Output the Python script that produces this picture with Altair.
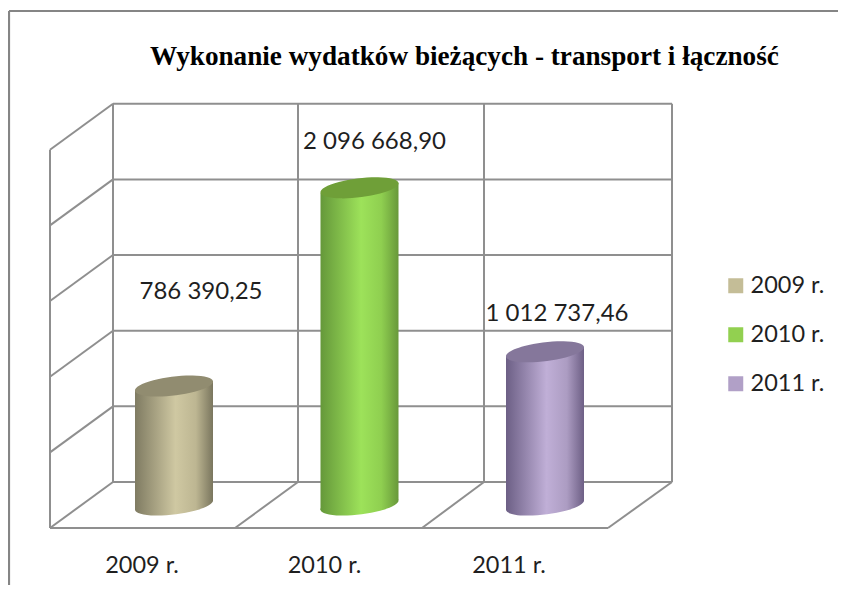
import altair as alt
import pandas as pd

# ---- chart values -------------------------------------------------------
categories = ["2009 r.", "2010 r.", "2011 r."]
values = [786390.25, 2096668.90, 1012737.46]
value_labels = ["786 390,25", "2 096 668,90", "1 012 737,46"]
grid_values = [0, 500000, 1000000, 1500000, 2000000, 2500000]
title_text = "Wykonanie wydatków bieżących - transport i łączność"

# ---- colours ------------------------------------------------------------
legend_colors = ["#C4BD97", "#92D050", "#B1A0C7"]
top_colors = ["#918C70", "#6F9F38", "#85779B"]
side_stops = [
    ("#7F7B62", "#CFC8A2", "#BDB692", "#7A765E"),
    ("#65983A", "#9DE25A", "#8FCF50", "#68983A"),
    ("#6C5F85", "#C0AFD7", "#AC9CC2", "#6D5F85"),
]
line_color = "#8F8F8F"
text_color = "#1F1F1F"

# ---- page geometry → data coordinates (category index / value) ----------
W, H = 830, 577
PX_PER_CAT = 185.5
PX_PER_VAL = 151.3e-6
X0_PAGE, Y0_PAGE = 174.0, 505.0


def xd(px):
    return (px - X0_PAGE) / PX_PER_CAT


def yd(py):
    return (Y0_PAGE - py) / PX_PER_VAL


x_scale = alt.Scale(domain=[xd(8), xd(8 + W)], range=[0, W], nice=False, zero=False)
y_scale = alt.Scale(domain=[yd(8 + H), yd(8)], range=[H, 0], nice=False, zero=False)
X = alt.X("x:Q", scale=x_scale, axis=None)
Y = alt.Y("y:Q", scale=y_scale, axis=None, stack=None)

DEPTH = 23 / PX_PER_VAL  # wall depth in value units
TILT = 5 / PX_PER_VAL    # cylinder tilt in value units
HALF = 39 / PX_PER_CAT   # cylinder half-width in category units

# ---- walls and frame ----------------------------------------------------
segments = []


def seg(x1, y1, x2, y2):
    i = len(segments) // 2
    segments.append({"id": i, "x": xd(x1), "y": y1})
    segments.append({"id": i, "x": xd(x2), "y": y2})


for v in grid_values:
    seg(113, v + DEPTH, 672, v + DEPTH)
    seg(50, v - DEPTH, 113, v + DEPTH)
top_v = grid_values[-1]
seg(50, -DEPTH, 50, top_v - DEPTH)
for px in [113, 298, 484, 672]:
    seg(px, DEPTH, px, top_v + DEPTH)
seg(50, -DEPTH, 608, -DEPTH)
for a, b in [(235, 298), (422, 484), (608, 672)]:
    seg(a, -DEPTH, b, DEPTH)
walls = alt.Chart(pd.DataFrame(segments)).mark_line(
    color=line_color, strokeWidth=2
).encode(x=X, y=Y, detail="id:N")

frame_rows = []
for i, (x1, y1, x2, y2) in enumerate([(9, 593, 9, 11), (9, 11, 846, 11)]):
    frame_rows.append({"id": i, "x": xd(x1), "y": yd(y1)})
    frame_rows.append({"id": i, "x": xd(x2), "y": yd(y2)})
frame = alt.Chart(pd.DataFrame(frame_rows)).mark_line(
    color="#858585", strokeWidth=2.2
).encode(x=X, y=Y, detail="id:N")

# ---- cylinders ----------------------------------------------------------
ELLIPSE = "M -0.9925 0.1219 A 1 0.24 -7 1 1 0.9925 -0.1219 A 1 0.24 -7 1 1 -0.9925 0.1219 Z"
ELLIPSE_SIZE = (2 * 39.3) ** 2


def gradient(stops):
    return alt.Gradient(
        gradient="linear", x1=0, y1=0, x2=1, y2=0,
        stops=[
            alt.GradientStop(color=stops[0], offset=0),
            alt.GradientStop(color=stops[1], offset=0.52),
            alt.GradientStop(color=stops[2], offset=0.78),
            alt.GradientStop(color=stops[3], offset=1),
        ],
    )


bars = []
for i, v in enumerate(values):
    g = gradient(side_stops[i])
    bottom = pd.DataFrame([{"x": i, "y": 0}])
    top = pd.DataFrame([{"x": i, "y": v}])
    side = pd.DataFrame([
        {"x": i - HALF, "y": v - TILT, "y2": -TILT},
        {"x": i + HALF, "y": v + TILT, "y2": TILT},
    ])
    bars.append(alt.Chart(bottom).mark_point(
        shape=ELLIPSE, size=ELLIPSE_SIZE, filled=True, fill=g, opacity=1, strokeWidth=0
    ).encode(x=X, y=Y))
    bars.append(alt.Chart(side).mark_area(fill=g, opacity=1, interpolate="linear").encode(
        x=X, y=Y, y2="y2:Q"
    ))
    bars.append(alt.Chart(top).mark_point(
        shape=ELLIPSE, size=ELLIPSE_SIZE, filled=True, fill=top_colors[i], opacity=1, strokeWidth=0
    ).encode(x=X, y=Y))

# ---- value labels -------------------------------------------------------
label_dx = [27, 15, 12]
label_dy = [-87, -39, -31]
labels = []
for i, v in enumerate(values):
    labels.append(alt.Chart(pd.DataFrame([{"x": i, "y": v, "t": value_labels[i]}])).mark_text(
        font="Lato", fontSize=24, color=text_color, align="center", baseline="alphabetic",
        dx=label_dx[i], dy=label_dy[i]
    ).encode(x=X, y=Y, text="t:N"))

# ---- category labels ----------------------------------------------------
cat_dx = [-32, -35, -36]
cats = []
for i, c in enumerate(categories):
    cats.append(alt.Chart(pd.DataFrame([{"x": i, "y": yd(573), "t": c}])).mark_text(
        font="Lato", fontSize=23.5, color=text_color, align="center", baseline="alphabetic",
        dx=cat_dx[i]
    ).encode(x=X, y=Y, text="t:N"))

# ---- legend -------------------------------------------------------------
legend_df = pd.DataFrame({"x": [0, 1, 2], "y": values, "cat": categories})
legend = alt.Chart(legend_df).mark_square(size=1, opacity=0).encode(
    x=X, y=Y,
    color=alt.Color(
        "cat:N",
        scale=alt.Scale(domain=categories, range=legend_colors),
        legend=alt.Legend(
            title=None, orient="none", legendX=716, legendY=266,
            symbolType="square", symbolSize=225, symbolOpacity=1, symbolStrokeWidth=0,
            labelFont="Lato", labelFontSize=23.5, labelColor=text_color,
            rowPadding=24, labelOffset=3, labelLimit=200,
        ),
    ),
)

chart = alt.layer(walls, frame, *bars, *labels, *cats, legend).properties(
    width=W, height=H, padding=0,
    autosize=alt.AutoSizeParams(type="none"),
    background="#FFFFFF",
    title=alt.TitleParams(
        text=title_text, anchor="start", frame="group", orient="top", offset=0,
        dx=142, dy=86, baseline="alphabetic",
        font="Liberation Serif", fontSize=27.2, fontWeight="bold", color="#000000",
    ),
).configure_view(stroke=None)

chart.save("out.html", embed_options={"renderer": "svg", "actions": False})
